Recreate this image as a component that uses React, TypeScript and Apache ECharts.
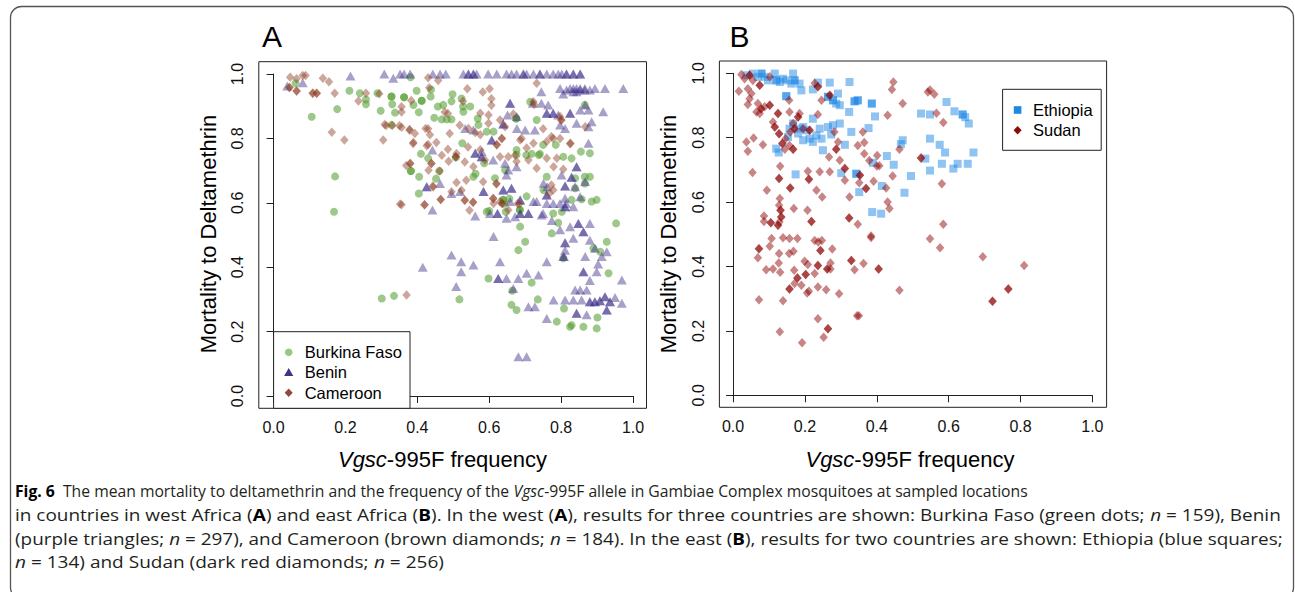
import React, { useEffect, useRef } from 'react';
import * as echarts from 'echarts';

// ---------------- data ----------------
const tickValues = [0, 0.2, 0.4, 0.6, 0.8, 1.0];
const panelLabels = ['A', 'B'];
const legendA = ['Burkina Faso', 'Benin', 'Cameroon'];
const legendB = ['Ethiopia', 'Sudan'];
const xTitleMain = 'Vgsc';
const xTitleRest = '-995F frequency';
const yTitle = 'Mortality to Deltamethrin';

const burkinaFaso: number[][] = [
  [0.061,0.971],[0.106,0.867],[0.177,0.891],[0.171,0.682],[0.168,0.572],[0.211,0.948],[0.240,0.940],[0.257,0.921],[0.257,0.906],[0.289,0.940],
  [0.298,0.886],[0.328,0.930],[0.328,0.930],[0.363,0.928],[0.363,0.928],[0.330,0.906],[0.338,0.880],[0.328,0.842],[0.381,0.990],[0.398,0.948],
  [0.389,0.904],[0.412,0.917],[0.412,0.917],[0.404,0.881],[0.438,0.952],[0.437,0.930],[0.447,0.864],[0.468,0.859],[0.482,0.859],[0.495,0.859],
  [0.472,0.904],[0.498,0.937],[0.495,0.915],[0.523,0.924],[0.547,0.899],[0.528,0.883],[0.568,0.862],[0.570,0.842],[0.593,0.821],[0.612,0.821],
  [0.675,0.862],[0.675,0.862],[0.457,0.899],[0.527,0.899],
  [0.410,0.752],[0.430,0.738],[0.382,0.699],[0.382,0.699],[0.405,0.681],[0.404,0.629],[0.452,0.675],[0.461,0.699],[0.507,0.741],[0.525,0.785],
  [0.556,0.681],[0.562,0.690],[0.586,0.723],[0.616,0.676],[0.644,0.702],[0.639,0.609],[0.639,0.609],[0.642,0.597],[0.656,0.613],[0.593,0.572],
  [0.646,0.572],[0.676,0.764],[0.676,0.750],[0.704,0.620],[0.600,0.575],[0.685,0.578],[0.685,0.578],
  [0.714,0.914],[0.732,0.857],[0.750,0.780],[0.785,0.780],[0.718,0.752],[0.741,0.752],[0.760,0.681],[0.751,0.640],[0.806,0.743],[0.829,0.738],
  [0.855,0.759],[0.880,0.754],[0.866,0.904],[0.839,0.676],[0.866,0.681],[0.880,0.681],[0.866,0.660],[0.839,0.645],[0.829,0.609],[0.857,0.611],
  [0.885,0.604],[0.899,0.609],[0.778,0.567],[0.802,0.572],[0.792,0.538],[0.774,0.505],[0.686,0.526],[0.700,0.479],[0.681,0.453],[0.806,0.428],
  [0.890,0.459],[0.909,0.448],[0.927,0.479],[0.953,0.536],[0.932,0.381],[0.598,0.365],[0.718,0.352],[0.664,0.327],[0.662,0.283],[0.676,0.267],
  [0.735,0.300],[0.808,0.272],[0.788,0.231],[0.829,0.220],[0.825,0.215],[0.862,0.215],[0.901,0.244],[0.899,0.210],[0.517,0.300],[0.301,0.303],
  [0.335,0.311],[0.703,0.748],[0.738,0.748]
];

const benin: number[][] = [
  [0.308,1.0],[0.352,1.0],[0.363,1.0],[0.380,1.0],[0.443,1.0],[0.463,1.0],[0.479,1.0],[0.528,1.0],[0.542,1.0],[0.556,1.0],
  [0.565,1.0],[0.597,1.0],[0.621,1.0],[0.648,1.0],[0.662,1.0],[0.676,1.0],[0.695,1.0],[0.704,1.0],[0.723,1.0],[0.741,1.0],
  [0.760,1.0],[0.778,1.0],[0.792,1.0],[0.802,1.0],[0.815,1.0],[0.834,1.0],[0.853,1.0],[0.542,1.0],[0.556,1.0],[0.695,1.0],
  [0.741,1.0],[0.815,1.0],[0.834,1.0],[0.853,1.0],[0.214,0.994],[0.333,0.987],[0.038,0.963],[0.081,0.973],
  [0.797,0.955],[0.815,0.950],[0.825,0.955],[0.834,0.945],[0.843,0.955],[0.853,0.950],[0.866,0.955],[0.880,0.950],[0.894,0.955],[0.922,0.955],
  [0.973,0.955],[0.745,0.945],[0.806,0.938],[0.834,0.955],[0.843,0.945],[0.853,0.955],[0.866,0.950],
  [0.721,0.909],[0.745,0.909],[0.764,0.904],[0.760,0.878],[0.760,0.878],[0.778,0.878],[0.778,0.878],[0.792,0.873],[0.825,0.878],[0.825,0.878],
  [0.853,0.888],[0.876,0.888],[0.867,0.904],[0.917,0.883],[0.658,0.909],[0.658,0.909],[0.651,0.873],[0.677,0.868],
  [0.639,0.845],[0.639,0.845],[0.677,0.831],[0.700,0.826],[0.727,0.826],[0.533,0.831],[0.556,0.826],[0.797,0.842],[0.811,0.831],[0.843,0.847],
  [0.876,0.836],[0.885,0.852],[0.876,0.785],
  [0.442,0.764],[0.561,0.754],[0.561,0.754],[0.579,0.759],[0.579,0.743],[0.579,0.743],[0.607,0.795],[0.607,0.795],[0.611,0.733],[0.644,0.723],
  [0.653,0.702],[0.676,0.712],[0.648,0.686],
  [0.426,0.650],[0.426,0.650],[0.463,0.660],[0.442,0.578],[0.495,0.629],[0.519,0.635],[0.584,0.635],[0.584,0.635],[0.639,0.640],[0.639,0.640],
  [0.662,0.645],[0.662,0.645],[0.686,0.609],[0.686,0.609],[0.658,0.604],
  [0.561,0.559],[0.602,0.567],[0.623,0.567],[0.623,0.567],[0.648,0.552],[0.672,0.557],[0.709,0.567],[0.709,0.567],[0.750,0.567],[0.774,0.545],
  [0.686,0.567],[0.686,0.567],
  [0.732,0.604],[0.760,0.598],[0.778,0.598],[0.797,0.598],[0.811,0.588],[0.811,0.588],[0.834,0.588],[0.853,0.619],[0.811,0.614],[0.760,0.624],
  [0.760,0.624],[0.801,0.686],[0.829,0.679],[0.829,0.679],[0.843,0.712],[0.843,0.712],[0.811,0.652],[0.811,0.652],[0.839,0.650],[0.867,0.666],
  [0.751,0.661],[0.723,0.604],[0.746,0.562],
  [0.797,0.516],[0.825,0.526],[0.848,0.536],[0.848,0.536],[0.862,0.510],[0.862,0.510],[0.880,0.536],[0.811,0.476],[0.811,0.476],[0.834,0.490],
  [0.880,0.484],[0.894,0.459],[0.927,0.448],[0.913,0.433],[0.811,0.453],[0.806,0.433],[0.867,0.433],[0.903,0.410],[0.899,0.386],[0.862,0.386],
  [0.862,0.386],[0.880,0.359],[0.969,0.360],
  [0.839,0.329],[0.853,0.329],[0.871,0.329],[0.811,0.298],[0.834,0.298],[0.857,0.298],[0.880,0.293],[0.880,0.293],[0.894,0.293],[0.894,0.293],
  [0.908,0.296],[0.908,0.296],[0.922,0.308],[0.922,0.308],[0.936,0.293],[0.936,0.293],[0.950,0.306],[0.969,0.288],[0.927,0.267],[0.927,0.267],
  [0.871,0.252],[0.843,0.257],[0.843,0.257],[0.760,0.241],[0.727,0.277],[0.709,0.277],[0.779,0.298],
  [0.415,0.400],[0.495,0.438],[0.522,0.417],[0.556,0.407],[0.522,0.386],[0.508,0.340],[0.630,0.417],[0.625,0.365],[0.625,0.365],[0.648,0.365],
  [0.681,0.365],[0.704,0.381],[0.737,0.376],[0.667,0.334],[0.760,0.417],[0.612,0.495],[0.681,0.122],[0.704,0.122],
  [0.808,0.433],[0.761,0.650],[0.814,0.598]
];

const cameroon: number[][] = [
  [0.046,0.990],[0.064,0.985],[0.081,0.995],[0.089,0.995],
  [0.044,0.958],[0.044,0.958],[0.064,0.947],[0.064,0.947],[0.109,0.940],[0.109,0.940],[0.120,0.940],[0.120,0.940],
  [0.137,0.987],[0.154,0.976],[0.170,0.940],[0.162,0.819],[0.197,0.795],
  [0.236,0.916],[0.257,0.940],[0.294,0.939],[0.313,0.840],[0.309,0.843],[0.305,0.795],[0.330,0.840],[0.350,0.839],[0.356,0.898],
  [0.356,0.882],[0.356,0.835],[0.378,0.828],[0.379,0.825],[0.383,0.918],[0.389,0.787],[0.393,0.815],[0.388,0.784],[0.430,0.830],[0.423,0.831],
  [0.426,0.777],[0.430,0.781],[0.453,0.787],[0.435,0.811],[0.430,0.988],[0.458,0.980],[0.433,0.957],
  [0.539,0.954],[0.601,0.954],[0.582,0.944],[0.606,0.923],[0.606,0.903],[0.476,0.882],[0.485,0.877],[0.527,0.915],[0.518,0.841],[0.490,0.815],
  [0.485,0.766],[0.509,0.753],[0.487,0.729],[0.532,0.727],[0.541,0.773],[0.542,0.831],[0.575,0.878],[0.598,0.873],[0.598,0.847],[0.575,0.811],
  [0.561,0.818],[0.630,0.857],[0.667,0.876],[0.635,0.800],[0.635,0.800],[0.644,0.836],[0.686,0.795],[0.653,0.743],[0.672,0.748],[0.676,0.728],
  [0.630,0.743],[0.621,0.780],[0.621,0.780],[0.575,0.765],[0.588,0.733],[0.556,0.712],[0.468,0.748],[0.507,0.743],[0.507,0.743],
  [0.380,0.722],[0.380,0.722],[0.369,0.716],[0.439,0.722],[0.439,0.722],[0.431,0.701],[0.462,0.699],[0.536,0.670],[0.509,0.663],[0.583,0.665],
  [0.444,0.649],[0.443,0.652],
  [0.352,0.596],[0.356,0.594],[0.420,0.594],[0.420,0.594],[0.465,0.610],[0.465,0.610],[0.532,0.608],[0.532,0.608],[0.555,0.602],[0.555,0.602],
  [0.545,0.577],[0.495,0.634],[0.523,0.639],[0.620,0.659],[0.620,0.659],[0.611,0.613],[0.611,0.613],[0.612,0.598],[0.630,0.603],[0.653,0.578],
  [0.684,0.596],[0.636,0.598],[0.636,0.598],[0.679,0.598],[0.370,0.314],
  [0.732,0.971],[0.723,0.914],[0.725,0.905],[0.797,0.868],[0.801,0.857],[0.778,0.800],[0.797,0.800],[0.825,0.783],[0.760,0.790],[0.723,0.785],
  [0.704,0.770],[0.709,0.733],[0.732,0.707],[0.760,0.738],[0.788,0.738],[0.806,0.704],[0.778,0.640],[0.767,0.629],[0.773,0.655],[0.779,0.712],
  [0.826,0.785],[0.867,0.836],[0.800,0.857],[0.773,0.805],[0.750,0.830],[0.690,0.800]
];

const ethiopia: number[][] = [
  [0.037,0.994],[0.055,0.999],[0.069,0.989],[0.079,0.999],[0.079,0.999],[0.088,0.989],[0.097,0.978],[0.116,0.999],[0.120,0.978],[0.120,0.978],
  [0.130,0.973],[0.139,0.983],[0.148,0.978],[0.162,0.968],[0.167,0.999],[0.171,0.978],[0.171,0.978],[0.185,0.968],[0.190,0.947],[0.222,0.950],
  [0.236,0.971],[0.269,0.971],[0.324,0.973],[0.264,0.927],[0.264,0.927],[0.278,0.916],[0.278,0.916],[0.287,0.906],[0.297,0.901],[0.292,0.937],
  [0.323,0.880],[0.338,0.913],[0.338,0.913],[0.148,0.929],[0.148,0.929],
  [0.222,0.859],[0.195,0.833],[0.167,0.844],[0.157,0.828],[0.185,0.828],[0.204,0.823],[0.153,0.802],[0.181,0.813],[0.195,0.792],[0.213,0.797],
  [0.232,0.807],[0.241,0.828],[0.222,0.787],[0.246,0.797],[0.264,0.833],[0.278,0.839],[0.273,0.810],[0.297,0.844],[0.250,0.761],[0.120,0.766],
  [0.127,0.754],[0.311,0.778],[0.329,0.818],[0.174,0.686],[0.301,0.690],[0.343,0.688],[0.343,0.688],
  [0.347,0.916],[0.347,0.916],[0.386,0.906],[0.386,0.906],[0.395,0.866],[0.377,0.830],[0.523,0.875],[0.548,0.872],[0.594,0.911],[0.616,0.882],
  [0.639,0.872],[0.639,0.872],[0.646,0.864],[0.656,0.844],[0.472,0.792],[0.467,0.780],[0.428,0.743],[0.447,0.716],[0.389,0.722],[0.495,0.681],
  [0.414,0.650],[0.477,0.629],[0.548,0.797],[0.575,0.778],[0.590,0.754],[0.669,0.754],[0.535,0.735],[0.581,0.719],[0.625,0.719],[0.653,0.719],
  [0.613,0.704],[0.548,0.698],[0.387,0.569],[0.412,0.564],[0.351,0.631]
];

const sudan: number[][] = [
  [0.023,0.996],[0.032,0.983],[0.046,0.994],[0.046,0.994],[0.055,0.978],[0.016,0.944],[0.041,0.952],[0.051,0.937],[0.074,0.963],[0.074,0.963],
  [0.046,0.921],[0.041,0.903],[0.069,0.906],[0.078,0.890],[0.078,0.890],[0.088,0.896],[0.102,0.901],[0.102,0.901],[0.065,0.880],[0.074,0.875],
  [0.102,0.989],[0.156,0.916],[0.125,0.875],[0.125,0.875],[0.111,0.849],[0.116,0.833],[0.116,0.833],[0.128,0.812],[0.128,0.812],[0.157,0.880],
  [0.185,0.875],[0.181,0.864],[0.181,0.864],[0.167,0.844],[0.171,0.828],[0.171,0.828],[0.159,0.818],[0.146,0.797],[0.137,0.782],[0.137,0.782],
  [0.157,0.776],[0.144,0.764],[0.167,0.764],[0.167,0.764],[0.195,0.828],[0.213,0.823],[0.213,0.823],[0.236,0.872],[0.227,0.969],[0.236,0.958],
  [0.236,0.958],[0.246,0.916],[0.269,0.932],[0.269,0.932],[0.282,0.818],[0.292,0.787],[0.287,0.764],[0.287,0.764],[0.267,0.740],
  [0.037,0.787],[0.057,0.799],[0.041,0.758],[0.083,0.778],[0.054,0.692],[0.131,0.711],[0.094,0.637],[0.128,0.673],[0.128,0.673],[0.159,0.644],
  [0.159,0.644],[0.130,0.611],[0.128,0.590],[0.132,0.575],[0.132,0.575],[0.134,0.554],[0.134,0.554],[0.129,0.538],[0.125,0.528],[0.125,0.528],
  [0.105,0.536],[0.105,0.536],[0.086,0.557],[0.086,0.540],[0.169,0.580],[0.207,0.575],[0.218,0.540],[0.218,0.540],[0.232,0.637],[0.248,0.616],
  [0.208,0.696],[0.211,0.671],[0.211,0.671],[0.241,0.694],[0.269,0.694],[0.297,0.730],[0.311,0.668],[0.323,0.551],[0.323,0.551],[0.311,0.704],
  [0.311,0.704],[0.324,0.616],
  [0.446,0.973],[0.442,0.950],[0.542,0.942],[0.548,0.948],[0.560,0.935],[0.472,0.906],[0.430,0.870],[0.566,0.876],[0.585,0.847],[0.361,0.818],
  [0.365,0.785],[0.347,0.776],[0.365,0.750],[0.379,0.729],[0.400,0.712],[0.463,0.764],[0.523,0.737],[0.523,0.737],[0.444,0.681],[0.353,0.683],
  [0.353,0.683],[0.351,0.660],[0.391,0.665],[0.370,0.642],[0.370,0.642],[0.426,0.644],[0.430,0.600],[0.435,0.580],[0.581,0.657],[0.585,0.531],
  [0.347,0.531],[0.384,0.495],[0.401,0.745],[0.407,0.713],
  [0.072,0.455],[0.072,0.455],[0.069,0.427],[0.107,0.487],[0.102,0.463],[0.139,0.489],[0.157,0.487],[0.179,0.487],[0.128,0.440],[0.127,0.411],
  [0.092,0.390],[0.111,0.392],[0.131,0.382],[0.170,0.388],[0.156,0.440],[0.168,0.447],[0.179,0.364],[0.179,0.364],[0.171,0.347],[0.190,0.342],
  [0.157,0.330],[0.157,0.330],[0.202,0.375],[0.202,0.375],[0.206,0.318],[0.211,0.323],[0.199,0.416],[0.208,0.406],[0.227,0.481],[0.237,0.476],
  [0.247,0.481],[0.243,0.450],[0.243,0.450],[0.236,0.403],[0.236,0.403],[0.227,0.378],[0.262,0.392],[0.262,0.392],[0.271,0.392],[0.276,0.454],
  [0.271,0.411],[0.259,0.328],[0.236,0.336],[0.295,0.315],[0.072,0.297],[0.139,0.294],[0.130,0.197],[0.236,0.238],[0.264,0.207],[0.264,0.207],
  [0.252,0.180],[0.192,0.163],[0.329,0.419],[0.329,0.419],[0.338,0.390],[0.345,0.247],
  [0.384,0.490],[0.548,0.486],[0.576,0.458],[0.695,0.430],[0.405,0.392],[0.405,0.392],[0.363,0.409],[0.463,0.326],[0.350,0.247],[0.766,0.330],
  [0.766,0.330],[0.722,0.292],[0.722,0.292],[0.810,0.403]
];

// caption segments: [style, text]
const captionLines: [string, string][][] = [
  [['b', 'Fig. 6'], ['n', '  The mean mortality to deltamethrin and the frequency of the '], ['i', 'Vgsc'], ['n', '-995F allele in Gambiae Complex mosquitoes at sampled locations']],
  [['n', 'in countries in west Africa ('], ['b', 'A'], ['n', ') and east Africa ('], ['b', 'B'], ['n', '). In the west ('], ['b', 'A'], ['n', '), results for three countries are shown: Burkina Faso (green dots; '], ['i', 'n'], ['n', ' = 159), Benin']],
  [['n', '(purple triangles; '], ['i', 'n'], ['n', ' = 297), and Cameroon (brown diamonds; '], ['i', 'n'], ['n', ' = 184). In the east ('], ['b', 'B'], ['n', '), results for two countries are shown: Ethiopia (blue squares;']],
  [['i', 'n'], ['n', ' = 134) and Sudan (dark red diamonds; '], ['i', 'n'], ['n', ' = 256)']]
];

// ---------------- layout / style ----------------
const FONT = "'Liberation Sans', Arial, Helvetica, sans-serif";
const CAP_FONT = "'Open Sans', 'Noto Sans', sans-serif";
const CAP_SIZE = 16.5;
const captionY = [491, 514.7, 538.4, 562];
const captionRight = [1028, 1281, 1283, 444];
const CAP_X = 15;

const panels = [
  { gridLeft: 273.6, gridTop: 74, gridW: 359.4, gridH: 322, box: [258.8, 61.7, 387.7, 346.6], letterX: 262, yTitleX: 208.5, xTitleCx: 442.5 },
  { gridLeft: 733.1, gridTop: 73.3, gridW: 359.3, gridH: 322, box: [719.4, 61, 387.2, 346.3], letterX: 729.5, yTitleX: 668.5, xTitleCx: 910 },
];

const colors = {
  bf: '#4e9a2a', benin: '#3b2f8a', cam: '#8b3a1e', eth: '#1e88e5', sud: '#8b0000',
};

function measureLine(segs: [string, string][]): number {
  const c = document.createElement('canvas').getContext('2d')!;
  let w = 0;
  for (const [k, t] of segs) {
    const weight = k === 'b' ? 'bold ' : '';
    const style = k === 'i' ? 'italic ' : '';
    c.font = `${style}${weight}${CAP_SIZE}px ${CAP_FONT}`;
    w += c.measureText(t).width;
  }
  return w;
}

function buildOption() {
  const axisLabelBase = { fontFamily: FONT, fontSize: 16, color: '#111', formatter: (v: number) => v.toFixed(1) };
  const axisBase = {
    type: 'value' as const, min: tickValues[0], max: tickValues[tickValues.length - 1], interval: 0.2,
    splitLine: { show: false },
    axisLine: { show: true, lineStyle: { color: '#222', width: 1 } },
    axisTick: { show: true, length: 7, lineStyle: { color: '#222', width: 1 } },
  };
  const grids = panels.map(p => ({ left: p.gridLeft, top: p.gridTop, width: p.gridW, height: p.gridH, containLabel: false }));
  const xAxes = panels.map((p, i) => ({ ...axisBase, gridIndex: i, position: 'bottom', offset: p.box[1] + p.box[3] - (p.gridTop + p.gridH), axisLabel: { ...axisLabelBase, margin: 11 } }));
  const yAxes = panels.map((p, i) => ({ ...axisBase, gridIndex: i, position: 'left', offset: p.gridLeft - p.box[0], axisLabel: { ...axisLabelBase, rotate: 90, margin: 13 } }));

  const mk = (name: string, data: number[][], grid: number, symbol: string, size: any, color: string, opacity: number) => ({
    type: 'scatter', name, data, xAxisIndex: grid, yAxisIndex: grid, symbol, symbolSize: size, clip: false,
    itemStyle: { color, opacity }, emphasis: { disabled: true }, silent: true,
  });
  const series = [
    mk(legendA[0], burkinaFaso, 0, 'circle', 8, colors.bf, 0.55),
    mk(legendA[1], benin, 0, 'triangle', [10, 9], colors.benin, 0.45),
    mk(legendA[2], cameroon, 0, 'diamond', [8.5, 9.5], colors.cam, 0.45),
    mk(legendB[0], ethiopia, 1, 'rect', 8, colors.eth, 0.5),
    mk(legendB[1], sudan, 1, 'diamond', [8.5, 9.5], colors.sud, 0.48),
  ];

  const els: any[] = [];
  // outer rounded border
  els.push({ type: 'rect', shape: { x: 10.5, y: 6.5, width: 1283, height: 592, r: 11 }, style: { fill: 'none', stroke: '#555', lineWidth: 1.3 }, z: 0, silent: true });
  panels.forEach((p, i) => {
    els.push({ type: 'rect', shape: { x: p.box[0], y: p.box[1], width: p.box[2], height: p.box[3] }, style: { fill: 'none', stroke: '#222', lineWidth: 1 }, z: 50, silent: true });
    els.push({ type: 'text', x: p.letterX, y: 36, style: { text: panelLabels[i], font: `30px ${FONT}`, fill: '#000', textAlign: 'left', textVerticalAlign: 'middle' }, z: 50 });
    els.push({ type: 'text', x: p.yTitleX, y: 234, rotation: Math.PI / 2, style: { text: yTitle, font: `22px ${FONT}`, fill: '#000', textAlign: 'center', textVerticalAlign: 'middle' }, z: 50 });
    els.push({ type: 'text', x: p.xTitleCx, y: 459, style: { text: `{i|${xTitleMain}}{n|${xTitleRest}}`, rich: { i: { fontFamily: FONT, fontSize: 22, fontStyle: 'italic', fill: '#000' }, n: { fontFamily: FONT, fontSize: 22, fill: '#000' } }, textAlign: 'center', textVerticalAlign: 'middle' }, z: 50 });
  });

  // legend A
  const lgA = { x: 273.6, y: 331.7, w: 136.4, h: 76.6, mx: 288.7, tx: 304.7, rows: [352.3, 372.3, 392.7] };
  els.push({ type: 'rect', shape: { x: lgA.x, y: lgA.y, width: lgA.w, height: lgA.h }, style: { fill: '#fff', stroke: '#222', lineWidth: 1 }, z: 60 });
  els.push({ type: 'circle', shape: { cx: lgA.mx, cy: lgA.rows[0], r: 3.8 }, style: { fill: '#98c980' }, z: 61 });
  els.push({ type: 'polygon', shape: { points: [[lgA.mx - 4.6, lgA.rows[1] + 3.6], [lgA.mx + 4.6, lgA.rows[1] + 3.6], [lgA.mx, lgA.rows[1] - 4.4]] }, style: { fill: '#3e348c' }, z: 61 });
  els.push({ type: 'polygon', shape: { points: [[lgA.mx - 4, lgA.rows[2]], [lgA.mx, lgA.rows[2] - 4.3], [lgA.mx + 4, lgA.rows[2]], [lgA.mx, lgA.rows[2] + 4.3]] }, style: { fill: '#8e4a3a' }, z: 61 });
  legendA.forEach((t, i) => els.push({ type: 'text', x: lgA.tx, y: lgA.rows[i], style: { text: t, font: `16.5px ${FONT}`, fill: '#000', textAlign: 'left', textVerticalAlign: 'middle' }, z: 61 }));

  // legend B
  const lgB = { x: 1002.6, y: 89.3, w: 98.6, h: 61, mx: 1017.6, tx: 1033, rows: [110, 130.3] };
  els.push({ type: 'rect', shape: { x: lgB.x, y: lgB.y, width: lgB.w, height: lgB.h }, style: { fill: '#fff', stroke: '#222', lineWidth: 1 }, z: 60 });
  els.push({ type: 'rect', shape: { x: lgB.mx - 3.8, y: lgB.rows[0] - 3.8, width: 7.6, height: 7.6 }, style: { fill: colors.eth }, z: 61 });
  els.push({ type: 'polygon', shape: { points: [[lgB.mx - 4, lgB.rows[1]], [lgB.mx, lgB.rows[1] - 4.3], [lgB.mx + 4, lgB.rows[1]], [lgB.mx, lgB.rows[1] + 4.3]] }, style: { fill: '#8b0a0a' }, z: 61 });
  legendB.forEach((t, i) => els.push({ type: 'text', x: lgB.tx, y: lgB.rows[i], style: { text: t, font: `16.5px ${FONT}`, fill: '#000', textAlign: 'left', textVerticalAlign: 'middle' }, z: 61 }));

  // caption: each line condensed horizontally to span the same width as in the reference
  const rich = {
    n: { fontFamily: CAP_FONT, fontSize: CAP_SIZE, fill: '#231f20' },
    b: { fontFamily: CAP_FONT, fontSize: CAP_SIZE, fontWeight: 'bold', fill: '#000' },
    i: { fontFamily: CAP_FONT, fontSize: CAP_SIZE, fontStyle: 'italic', fill: '#231f20' },
  };
  captionLines.forEach((segs, i) => {
    const natural = measureLine(segs);
    const sx = (captionRight[i] - CAP_X) / natural;
    els.push({ type: 'text', x: CAP_X, y: captionY[i], scaleX: sx, style: { text: segs.map(([k, t]) => `{${k}|${t}}`).join(''), rich, textAlign: 'left', textVerticalAlign: 'middle' }, z: 50 });
  });

  return {
    animation: false,
    backgroundColor: '#fff',
    grid: grids,
    xAxis: xAxes,
    yAxis: yAxes,
    series,
    graphic: { elements: els },
  };
}

export default function App() {
  const ref = useRef<HTMLDivElement>(null);
  useEffect(() => {
    const chart = echarts.init(ref.current!, null, { renderer: 'svg' });
    chart.setOption(buildOption() as any);
    return () => chart.dispose();
  }, []);
  return <div ref={ref} style={{ position: 'fixed', left: 0, top: 0, width: 1295, height: 592, background: '#fff' }} />;
}
